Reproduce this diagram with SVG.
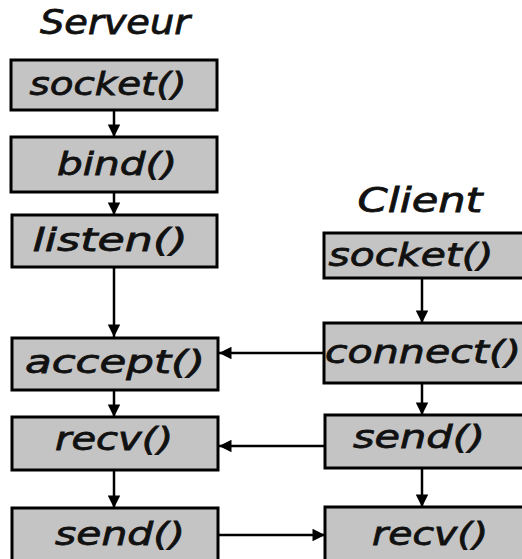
<svg xmlns="http://www.w3.org/2000/svg" width="522" height="559" viewBox="0 0 522 559">
<defs>
<marker id="ah" viewBox="0 0 10 10" refX="10" refY="5" markerWidth="5.5" markerHeight="5" markerUnits="strokeWidth" orient="auto"><path d="M0,0 L10,5 L0,10 Z" fill="#000"/></marker>
</defs>
<style>
.box{fill:#c4c4c4;stroke:#000;stroke-width:3}
.lbl{font-family:"DejaVu Sans",sans-serif;font-style:italic;font-size:32px;fill:#111;stroke:#111;stroke-width:0.8;text-anchor:middle}
.title{font-family:"DejaVu Sans",sans-serif;font-style:italic;font-size:33px;fill:#111;stroke:#111;stroke-width:0.8;text-anchor:middle}
.conn{stroke:#000;stroke-width:2.5;fill:none;marker-end:url(#ah)}
</style>
<rect width="522" height="559" fill="#fff"/>
<text class="title" x="115" y="34" textLength="150" lengthAdjust="spacingAndGlyphs">Serveur</text>
<text class="title" x="420" y="212" textLength="125" lengthAdjust="spacingAndGlyphs">Client</text>
<g id="connectors">
<line class="conn" x1="114" y1="110" x2="114" y2="137"/>
<line class="conn" x1="114" y1="192" x2="114" y2="215"/>
<line class="conn" x1="114" y1="267" x2="114" y2="337"/>
<line class="conn" x1="114" y1="390" x2="114" y2="417"/>
<line class="conn" x1="114" y1="470" x2="114" y2="508"/>
<line class="conn" x1="422" y1="278" x2="422" y2="323"/>
<line class="conn" x1="422" y1="383" x2="422" y2="415"/>
<line class="conn" x1="422" y1="468" x2="422" y2="507"/>
<line class="conn" x1="324" y1="353" x2="219" y2="353"/>
<line class="conn" x1="325" y1="446" x2="219" y2="446"/>
<line class="conn" x1="218" y1="535" x2="325" y2="535"/>
</g>
<g id="s_socket"><rect class="box" x="11" y="60" width="206" height="50"/><text class="lbl" x="108" y="95" textLength="157" lengthAdjust="spacingAndGlyphs">socket()</text></g>
<g id="s_bind"><rect class="box" x="11" y="137" width="206" height="55"/><text class="lbl" x="117" y="175" textLength="120" lengthAdjust="spacingAndGlyphs">bind()</text></g>
<g id="s_listen"><rect class="box" x="12" y="215" width="205" height="52"/><text class="lbl" x="110" y="251" textLength="155" lengthAdjust="spacingAndGlyphs">listen()</text></g>
<g id="s_accept"><rect class="box" x="12" y="338" width="206" height="52"/><text class="lbl" x="115" y="373" textLength="180" lengthAdjust="spacingAndGlyphs">accept()</text></g>
<g id="s_recv"><rect class="box" x="12" y="417" width="206" height="53"/><text class="lbl" x="114" y="450" textLength="118" lengthAdjust="spacingAndGlyphs">recv()</text></g>
<g id="s_send"><rect class="box" x="12" y="508" width="206" height="53"/><text class="lbl" x="120" y="545" textLength="130" lengthAdjust="spacingAndGlyphs">send()</text></g>
<g id="c_socket"><rect class="box" x="324" y="233" width="200" height="45"/><text class="lbl" x="411" y="266" textLength="165" lengthAdjust="spacingAndGlyphs">socket()</text></g>
<g id="c_connect"><rect class="box" x="324" y="323" width="200" height="60"/><text class="lbl" x="423" y="363" textLength="196" lengthAdjust="spacingAndGlyphs">connect()</text></g>
<g id="c_send"><rect class="box" x="325" y="415" width="199" height="53"/><text class="lbl" x="419" y="448" textLength="132" lengthAdjust="spacingAndGlyphs">send()</text></g>
<g id="c_recv"><rect class="box" x="325" y="507" width="199" height="54"/><text class="lbl" x="430" y="545" textLength="116" lengthAdjust="spacingAndGlyphs">recv()</text></g>
</svg>
